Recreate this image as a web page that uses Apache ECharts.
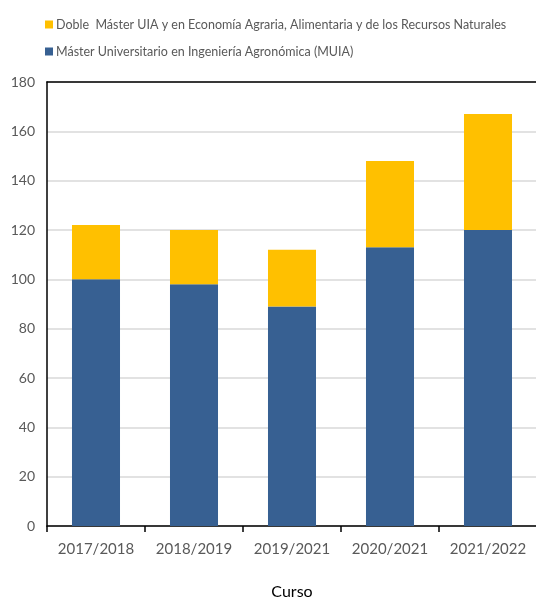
<!DOCTYPE html>
<html>
<head>
<meta charset="utf-8">
<script src="https://cdn.jsdelivr.net/npm/echarts@6/dist/echarts.min.js"></script>
<style>
  html, body { margin: 0; padding: 0; background: #fff; }
  #main { width: 536px; height: 599px; }
</style>
</head>
<body>
<div id="main"></div>
<script>
  var cursos = ['2017/2018', '2018/2019', '2019/2021', '2020/2021', '2021/2022'];
  var muia = [100, 98, 89, 113, 120];
  var doble = [22, 22, 23, 35, 47];
  var yTicks = { min: 0, max: 180, interval: 20 };

  var nombreMuia = 'Máster Universitario en Ingeniería Agronómica (MUIA)';
  var nombreDoble = 'Doble  Máster UIA y en Economía Agraria, Alimentaria y de los Recursos Naturales';

  var chart = echarts.init(document.getElementById('main'));
  var fontFam = 'Lato, "Open Sans", sans-serif';

  var option = {
    backgroundColor: '#fff',
    animation: false,
    textStyle: { fontFamily: fontFam },
    legend: {
      orient: 'vertical',
      left: 40,
      top: 13,
      itemWidth: 8,
      itemHeight: 8,
      itemGap: 14,
      icon: 'rect',
      data: [nombreDoble, nombreMuia],
      textStyle: { color: '#595959', fontSize: 12.5, fontFamily: fontFam, padding: [0, 0, 0, -2] }
    },
    grid: { left: 47, right: -1, top: 82, bottom: 73, containLabel: false, outerBoundsMode: 'none' },
    xAxis: [{
      type: 'category',
      data: cursos,
      name: 'Curso',
      nameLocation: 'middle',
      nameGap: 58,
      nameTextStyle: { color: '#000', fontSize: 16, fontFamily: fontFam },
      axisLine: { lineStyle: { color: '#000', width: 1.5 } },
      axisTick: { show: true, alignWithLabel: false, length: 6, lineStyle: { color: '#000', width: 1.5 } },
      axisLabel: { color: '#595959', fontSize: 15, margin: 16, interval: 0, fontFamily: fontFam }
    }, {
      type: 'category',
      data: cursos,
      position: 'top',
      axisLine: { lineStyle: { color: '#000', width: 1.5 } },
      axisTick: { show: false },
      axisLabel: { show: false }
    }],
    yAxis: {
      type: 'value',
      min: yTicks.min,
      max: yTicks.max,
      interval: yTicks.interval,
      axisLine: { show: true, lineStyle: { color: '#000', width: 1.5 } },
      axisTick: { show: false },
      axisLabel: { color: '#595959', fontSize: 14, margin: 12, fontFamily: fontFam },
      splitLine: { show: true, lineStyle: { color: '#d9d9d9', width: 1.5 } }
    },
    series: [{
      name: nombreMuia,
      type: 'bar',
      stack: 'total',
      data: muia,
      barWidth: '49%',
      itemStyle: { color: '#376092' }
    }, {
      name: nombreDoble,
      type: 'bar',
      stack: 'total',
      data: doble,
      barWidth: '49%',
      itemStyle: { color: '#FFC000' }
    }]
  };

  chart.setOption(option);
</script>
</body>
</html>
